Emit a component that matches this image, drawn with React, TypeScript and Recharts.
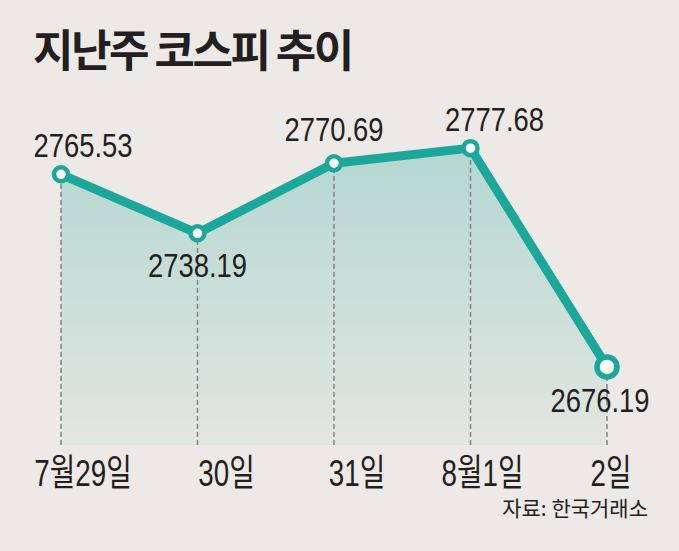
import React from 'react';
import { ComposedChart, Area, Line, XAxis, YAxis, ReferenceLine, LabelList } from 'recharts';

const DATES = ['7월29일', '30일', '31일', '8월1일', '2일'];
const KOSPI = [2765.53, 2738.19, 2770.69, 2777.68, 2676.19];
const Y_DOMAIN = [2640, 2800];

const data = DATES.map((date, i) => ({ date, kospi: KOSPI[i] }));

const TEAL = '#1ba89b';
const BG = '#ede9e6';
const INK = '#231f20';
const NUM_FONT = '"Liberation Sans", "Noto Sans CJK KR", sans-serif';
const KR_FONT = '"Noto Sans CJK KR", sans-serif';

// 값 라벨 위치 보정 (점 기준 dx, dy)
const VALUE_NUDGE = [
  [22, -17],
  [0, 44],
  [0, -22],
  [24, -17],
  [-7, 45],
];
// 날짜 라벨 가로 보정
const TICK_NUDGE = [22, 29, 23, 12, 4];

const ValueLabel = (props: any) => {
  const { x, y, value, index } = props;
  const [dx, dy] = VALUE_NUDGE[index] || [0, 0];
  return (
    <g transform={`translate(${x + dx}, ${y + dy}) scale(0.83,1)`}>
      <text textAnchor="middle" fontFamily={NUM_FONT} fontSize={33} fill={INK}>
        {value.toFixed(2)}
      </text>
    </g>
  );
};

const DateTick = (props: any) => {
  const { x, y, payload, index } = props;
  return (
    <g transform={`translate(${x + TICK_NUDGE[index]}, ${y + 33}) scale(0.75,1)`}>
      <text textAnchor="middle" fontFamily={NUM_FONT} fontSize={37} fill={INK}>
        {payload.value}
      </text>
    </g>
  );
};

const Marker = (props: any) => {
  const { cx, cy, index } = props;
  const last = index === data.length - 1;
  return (
    <circle
      key={`dot-${index}`}
      cx={cx}
      cy={cy}
      r={last ? 10 : 7}
      fill="#ffffff"
      stroke={TEAL}
      strokeWidth={last ? 5.5 : 4.5}
    />
  );
};

export default function App() {
  return (
    <div
      style={{
        position: 'absolute',
        left: 0,
        top: 0,
        width: 679,
        height: 551,
        background: BG,
        overflow: 'hidden',
      }}
    >
      <ComposedChart
        width={679}
        height={551}
        data={data}
        margin={{ top: 100, right: 72, bottom: 46, left: 61 }}
      >
        <defs>
          <linearGradient id="kospiFill" x1="0" y1="0" x2="0" y2="1">
            <stop offset="0%" stopColor="#b4d7d0" />
            <stop offset="100%" stopColor="#e2e6e2" />
          </linearGradient>
        </defs>
        <XAxis
          dataKey="date"
          axisLine={false}
          tickLine={false}
          interval={0}
          height={60}
          tick={<DateTick />}
        />
        <YAxis hide domain={Y_DOMAIN} />
        <Area
          type="linear"
          dataKey="kospi"
          stroke="none"
          fill="url(#kospiFill)"
          fillOpacity={1}
          isAnimationActive={false}
        />
        {data.map((d) => (
          <ReferenceLine
            key={d.date}
            segment={[
              { x: d.date, y: Y_DOMAIN[0] },
              { x: d.date, y: d.kospi },
            ]}
            stroke="#8a8a8a"
            strokeWidth={1.6}
            strokeDasharray="5 3"
            ifOverflow="visible"
          />
        ))}
        <Line
          type="linear"
          dataKey="kospi"
          stroke={TEAL}
          strokeWidth={9}
          strokeLinejoin="round"
          dot={Marker}
          activeDot={false}
          isAnimationActive={false}
        >
          <LabelList dataKey="kospi" content={<ValueLabel />} />
        </Line>
      </ComposedChart>

      <svg
        width={679}
        height={551}
        style={{ position: 'absolute', left: 0, top: 0, pointerEvents: 'none' }}
      >
        <text
          x={33}
          y={67}
          fontFamily={KR_FONT}
          fontWeight={700}
          fontSize={44}
          letterSpacing={-2.5}
          fill={INK}
        >
          지난주 코스피 추이
        </text>
        <text
          x={648}
          y={516}
          textAnchor="end"
          fontFamily={KR_FONT}
          fontSize={21}
          fill={INK}
        >
          자료: 한국거래소
        </text>
      </svg>
    </div>
  );
}
